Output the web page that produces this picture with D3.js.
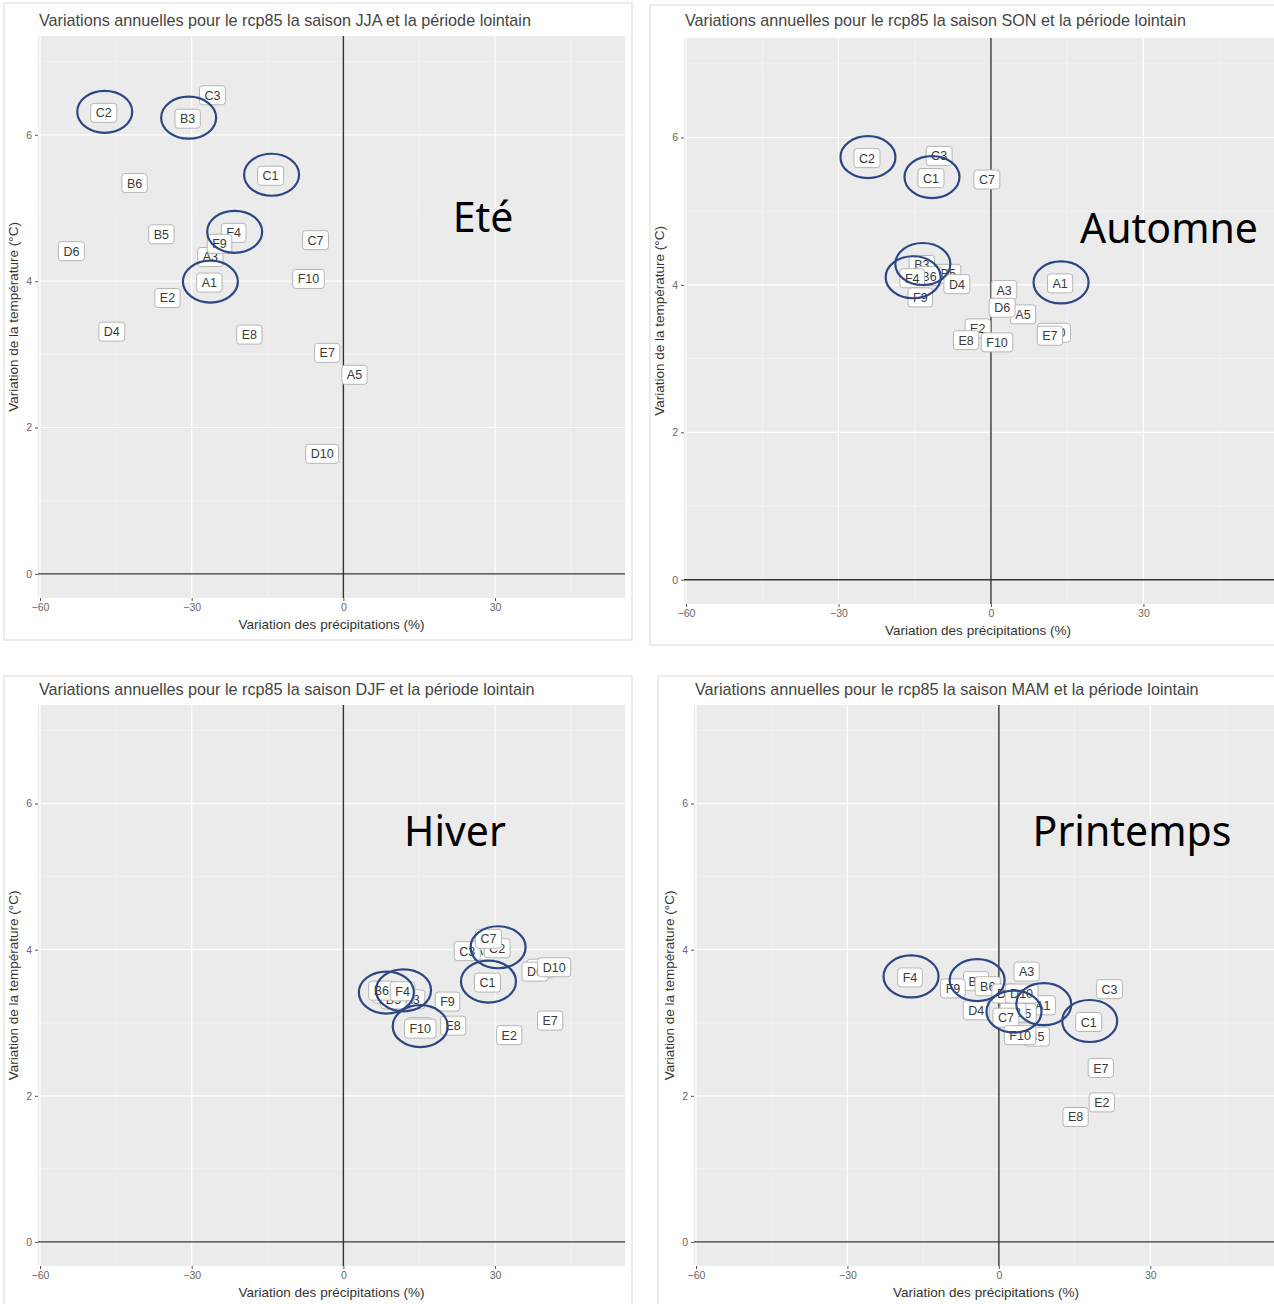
<!DOCTYPE html>
<html><head><meta charset="utf-8">
<script src="https://cdn.jsdelivr.net/npm/d3@7"></script>
<style>body{margin:0;background:#fff;} svg{display:block;}</style>
</head><body>
<svg id="c" width="1274" height="1304"></svg>
<script>
// ---- data ----
const models = ["A1","A3","A5","B3","B5","B6","C1","C2","C3","C7","D4","D6","D10","E2","E7","E8","F4","F9","F10"];
const circled = ["C2","B3","C1","F4","A1"];
const xTicks = [-60,-30,0,30];
const yTicks = [0,2,4,6];
const seasons = ["JJA","SON","DJF","MAM"];
const seasonNames = ["Eté","Automne","Hiver","Printemps"];
// precipitation change (%) per model, same order as models
const precipJJA = [-26.5,-26.3,2.2,-30.8,-36.0,-41.3,-14.4,-47.4,-25.9,-5.5,-45.8,-53.8,-4.2,-34.8,-3.2,-18.6,-21.7,-24.5,-6.9];
const tempJJA   = [3.98,4.33,2.72,6.22,4.64,5.34,5.44,6.30,6.54,4.56,3.31,4.41,1.64,3.77,3.02,3.27,4.66,4.51,4.03];
const precipSON = [13.6,2.6,6.3,-13.6,-8.4,-12.2,-11.8,-24.4,-10.2,-0.8,-6.7,2.2,12.4,-2.6,11.6,-4.9,-15.5,-13.9,1.2];
const tempSON   = [4.02,3.93,3.60,4.27,4.15,4.12,5.45,5.72,5.75,5.43,4.01,3.69,3.35,3.41,3.31,3.25,4.09,3.83,3.22];
const precipDJF = [15.0,13.6,27.5,8.3,9.9,7.5,28.5,30.4,24.5,28.7,38.9,37.9,41.7,32.8,40.9,21.7,11.7,20.6,15.2];
const tempDJF   = [2.94,3.32,3.99,3.40,3.32,3.44,3.55,4.02,3.98,4.15,3.74,3.70,3.76,2.83,3.03,2.96,3.43,3.29,2.92];
const precipMAM = [8.7,5.5,4.9,-4.5,7.5,-2.2,17.8,2.8,21.9,1.4,-4.5,1.2,4.5,20.4,20.2,15.2,-17.6,-9.1,4.2];
const tempMAM   = [3.24,3.70,3.13,3.57,2.81,3.50,3.01,3.14,3.46,3.07,3.17,3.40,3.40,1.91,2.38,1.71,3.62,3.47,2.83];

const precip = {JJA:precipJJA, SON:precipSON, DJF:precipDJF, MAM:precipMAM};
const temp = {JJA:tempJJA, SON:tempSON, DJF:tempDJF, MAM:tempMAM};

// ---- layout ----
const panels = [
  {s:"JJA", frame:[4,3,628,637], plot:[38,36,587,562], title:[39,26], name:[483,232], xt:0},
  {s:"SON", frame:[650,5,628,640], plot:[684,38,590,566], title:[685,26], name:[1169,243], xt:-1},
  {s:"DJF", frame:[4,676,628,632], plot:[38,705,587,561], title:[39,695], name:[455,846], xt:0},
  {s:"MAM", frame:[658,676,620,632], plot:[694,705,586,561], title:[695,695], name:[1132,846], xt:-1}
];
const svg = d3.select("#c");
const xDom = [-60.4, 55.7], yDom = [-0.33, 7.35];
const font = "'Liberation Sans', Arial, sans-serif";

panels.forEach((p,i) => {
  const g = svg.append("g");
  const [fx,fy,fw,fh] = p.frame;
  g.append("rect").attr("x",fx).attr("y",fy).attr("width",fw).attr("height",fh)
    .attr("fill","#fff").attr("stroke","#d9d9d9").attr("stroke-width",1);
  const [L,T,W,H] = p.plot;
  const x = d3.scaleLinear().domain(xDom).range([L, L+W]);
  const y = d3.scaleLinear().domain(yDom).range([T+H, T]);
  const clipId = "clip"+i;
  g.append("clipPath").attr("id",clipId).append("rect").attr("x",L).attr("y",T).attr("width",W).attr("height",H);
  const pg = g.append("g").attr("clip-path",`url(#${clipId})`);
  pg.append("rect").attr("x",L).attr("y",T).attr("width",W).attr("height",H).attr("fill","#ebebeb");
  // minor grid
  const xMinor = xTicks.map(v=>v+15).concat([-75]);
  const yMinor = yTicks.map(v=>v+1);
  pg.selectAll(".xmin").data(xMinor).join("line").attr("x1",d=>x(d)).attr("x2",d=>x(d)).attr("y1",T).attr("y2",T+H)
    .attr("stroke","#f7f7f7").attr("stroke-width",0.6);
  pg.selectAll(".ymin").data(yMinor).join("line").attr("y1",d=>y(d)).attr("y2",d=>y(d)).attr("x1",L).attr("x2",L+W)
    .attr("stroke","#f7f7f7").attr("stroke-width",0.6);
  // major grid
  pg.selectAll(".xmaj").data(xTicks).join("line").attr("x1",d=>x(d)).attr("x2",d=>x(d)).attr("y1",T).attr("y2",T+H)
    .attr("stroke","#fff").attr("stroke-width",1.2);
  pg.selectAll(".ymaj").data(yTicks).join("line").attr("y1",d=>y(d)).attr("y2",d=>y(d)).attr("x1",L).attr("x2",L+W)
    .attr("stroke","#fff").attr("stroke-width",1.2);
  // zero lines
  pg.append("line").attr("x1",x(0)).attr("x2",x(0)).attr("y1",T).attr("y2",T+H).attr("stroke","#333").attr("stroke-width",1.4);
  pg.append("line").attr("y1",y(0)).attr("y2",y(0)).attr("x1",L).attr("x2",L+W).attr("stroke","#333").attr("stroke-width",1.4);

  // axes
  const xa = g.append("g").attr("transform",`translate(0,${T+H})`)
    .call(d3.axisBottom(x).tickValues(xTicks).tickSize(3).tickPadding(3));
  const ya = g.append("g").attr("transform",`translate(${L},0)`)
    .call(d3.axisLeft(y).tickValues(yTicks).tickSize(3).tickPadding(3));
  [xa,ya].forEach(a=>{
    a.select(".domain").remove();
    a.selectAll(".tick line").attr("stroke","#555");
    a.selectAll(".tick text").attr("fill","#666").style("font-family",font).style("font-size","10.5px");
  });
  // axis titles
  g.append("text").attr("x",L+W/2 + p.xt).attr("y",T+H+31).attr("text-anchor","middle")
    .style("font-family",font).style("font-size","13.5px").attr("fill","#333").text("Variation des précipitations (%)");
  g.append("text").attr("transform",`translate(${L-20},${T+H/2}) rotate(-90)`).attr("text-anchor","middle")
    .style("font-family",font).style("font-size","13.5px").attr("fill","#333").text("Variation de la température (°C)");
  // title
  g.append("text").attr("x",p.title[0]).attr("y",p.title[1]).style("font-family",font).style("font-size","16.2px")
    .attr("fill","#444").text(`Variations annuelles pour le rcp85 la saison ${p.s} et la période lointain`);

  // labels
  const xs = precip[p.s], ys = temp[p.s];
  const data = models.map((m,k)=>({m, px:xs[k], ty:ys[k]}));
  const lg = pg.selectAll(".lab").data(data).join("g").attr("transform",d=>`translate(${x(d.px)},${y(d.ty)})`);
  lg.each(function(d){
    const s = d3.select(this);
    const r = s.append("rect");
    const t = s.append("text").attr("text-anchor","middle").attr("dy","0.36em")
      .style("font-family",font).style("font-size","12.5px").attr("fill","#3a3a3a").text(d.m);
    const w = t.node().getComputedTextLength();
    r.attr("x",-w/2-5).attr("y",-9.5).attr("width",w+10).attr("height",19).attr("rx",3)
      .attr("fill","#fff").attr("stroke","#b5b5b5").attr("stroke-width",1);
  });
  // circles (annotations)
  const cd = data.filter(d=>circled.includes(d.m));
  g.selectAll(".ell").data(cd).join("ellipse").attr("cx",d=>x(d.px)+1).attr("cy",d=>y(d.ty)-1)
    .attr("rx",27.5).attr("ry",21).attr("fill","none").attr("stroke","#2c4784").attr("stroke-width",2.2);
  // season name
  g.append("text").attr("x",p.name[0]).attr("y",p.name[1]).attr("text-anchor","middle")
    .style("font-family","'Noto Sans', 'Open Sans', sans-serif").style("font-size","41px").attr("fill","#000")
    .text(seasonNames[i]);
});
</script>
</body></html>
